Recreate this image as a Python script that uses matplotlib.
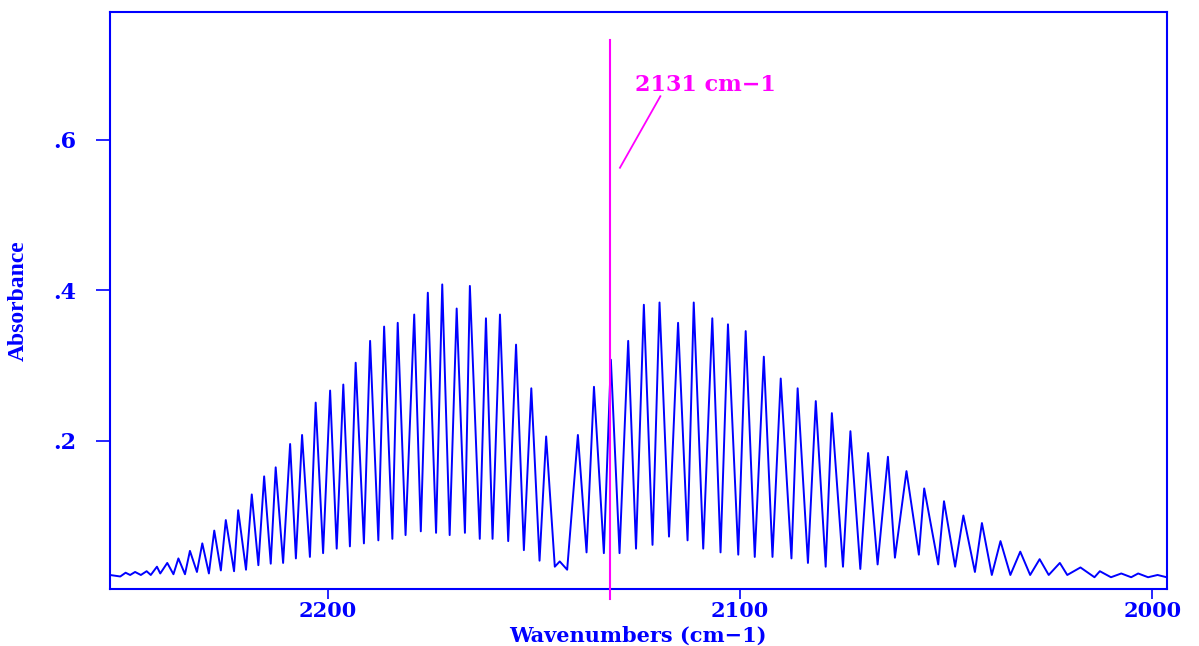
import matplotlib
matplotlib.use("Agg")
import matplotlib.pyplot as plt

BLUE = "#0000ff"
MAGENTA = "#ff00ff"

# line maxima of the traced spectrum (wavenumber, absorbance)
peak_wn = [2249.0, 2246.7, 2243.9, 2241.4, 2238.9, 2236.2, 2233.4, 2230.4,
           2227.5, 2224.7, 2221.7, 2218.4, 2215.4, 2212.6, 2209.1, 2206.2,
           2202.9, 2199.4, 2196.2, 2193.2, 2189.7, 2186.3, 2183.0, 2179.0,
           2175.7, 2172.2, 2168.7, 2165.5, 2161.6, 2158.2, 2154.3, 2150.6,
           2147.0, 2143.7, 2139.3, 2135.4, 2131.3, 2127.1, 2123.3, 2119.5,
           2115.0, 2111.2, 2106.7, 2102.9, 2098.6, 2094.2, 2090.1, 2086.0,
           2081.6, 2077.7, 2073.2, 2068.9, 2064.1, 2059.6, 2055.3, 2050.5,
           2045.8, 2041.3, 2036.8, 2032.0, 2027.3, 2022.4, 2017.4, 2012.7,
           2007.5, 2003.4, 1998.7]
peak_abs = [0.025, 0.026, 0.027, 0.033, 0.038, 0.044, 0.054, 0.064,
            0.081, 0.095, 0.108, 0.129, 0.153, 0.165, 0.196, 0.208,
            0.251, 0.267, 0.275, 0.304, 0.333, 0.352, 0.357, 0.368,
            0.397, 0.408, 0.376, 0.406, 0.363, 0.368, 0.328, 0.270,
            0.206, 0.040, 0.208, 0.272, 0.308, 0.333, 0.381, 0.384,
            0.357, 0.384, 0.363, 0.355, 0.346, 0.312, 0.283, 0.270,
            0.253, 0.237, 0.213, 0.184, 0.179, 0.160, 0.137, 0.120,
            0.101, 0.091, 0.067, 0.053, 0.043, 0.038, 0.032, 0.027,
            0.024, 0.024, 0.022]

# minima between the lines
valley_wn = [2252.8, 2250.3, 2247.9, 2245.3, 2242.9, 2240.6, 2237.4, 2234.6,
             2231.7, 2228.8, 2225.9, 2222.7, 2219.8, 2216.8, 2213.8, 2210.8,
             2207.7, 2204.3, 2201.1, 2197.8, 2194.6, 2191.2, 2187.7, 2184.3,
             2181.1, 2177.4, 2173.7, 2170.4, 2166.7, 2163.1, 2160.0, 2156.2,
             2152.4, 2148.6, 2144.9, 2141.9, 2137.2, 2133.0, 2129.2, 2125.2,
             2121.2, 2117.2, 2112.7, 2108.9, 2104.7, 2100.4, 2096.4, 2092.1,
             2087.5, 2083.5, 2079.2, 2075.0, 2070.8, 2066.6, 2062.4, 2056.6,
             2051.9, 2047.8, 2043.0, 2038.9, 2034.4, 2029.6, 2025.1, 2020.6,
             2014.0, 2010.0, 2005.1, 2001.0, 1996.5]
valley_abs = [0.022, 0.020, 0.022, 0.022, 0.022, 0.024, 0.023, 0.023,
              0.026, 0.024, 0.028, 0.027, 0.029, 0.035, 0.037, 0.038,
              0.044, 0.046, 0.051, 0.057, 0.060, 0.064, 0.068, 0.070,
              0.075, 0.080, 0.078, 0.075, 0.078, 0.070, 0.070, 0.067,
              0.055, 0.041, 0.033, 0.029, 0.052, 0.051, 0.051, 0.057,
              0.062, 0.073, 0.068, 0.057, 0.052, 0.049, 0.046, 0.046,
              0.044, 0.038, 0.033, 0.033, 0.030, 0.036, 0.045, 0.049,
              0.036, 0.033, 0.026, 0.022, 0.022, 0.022, 0.022, 0.022,
              0.019, 0.019, 0.019, 0.019, 0.019]

marker_wn = 2131.6
marker_label = "2131 cm\u22121"
xticks = [2200, 2100, 2000]
xtick_labels = ["2200", "2100", "2000"]
yticks = [0.2, 0.4, 0.6]
ytick_labels = [".2", ".4", ".6"]

pts = sorted(zip(peak_wn + valley_wn, peak_abs + valley_abs), reverse=True)
wn = [p[0] for p in pts]
absorb = [p[1] for p in pts]

fig = plt.figure(figsize=(11.99, 6.46), dpi=100)
ax = fig.add_axes([0.0917, 0.0878, 0.8813, 0.8937])

ax.plot(wn, absorb, color=BLUE, lw=1.4)

# marker line for the 2131 line, runs past the bottom axis like a tick
ax.plot([marker_wn, marker_wn], [-0.010, 0.733], color=MAGENTA, lw=1.5,
        clip_on=False, zorder=3)
ax.plot([2119.3, 2129.1], [0.658, 0.563], color=MAGENTA, lw=1.3)
ax.text(2125.5, 0.673, marker_label, color=MAGENTA, fontsize=16,
        family="DejaVu Serif", weight="bold", va="center", ha="left")

ax.set_xlim(2252.8, 1996.5)
ax.set_ylim(0.003, 0.770)

ax.set_xticks(xticks)
ax.set_xticklabels(xtick_labels)
ax.set_yticks(yticks)
ax.set_yticklabels(ytick_labels)
ax.tick_params(colors=BLUE, direction="out", width=1.2)
ax.tick_params(axis="x", length=7, pad=1.5, labelsize=15)
ax.tick_params(axis="y", length=10, pad=14, labelsize=16)
for lab in ax.get_xticklabels() + ax.get_yticklabels():
    lab.set_family("DejaVu Serif")
    lab.set_weight("bold")

for sp in ax.spines.values():
    sp.set_color(BLUE)
    sp.set_linewidth(1.5)

ax.set_xlabel("Wavenumbers (cm\u22121)", color=BLUE, fontsize=15,
              family="DejaVu Serif", weight="bold")
ax.xaxis.set_label_coords(0.5, -0.063)
ax.set_ylabel("Absorbance", color=BLUE, fontsize=17,
              family="Liberation Serif", weight="bold")
ax.yaxis.set_label_coords(-0.077, 0.5)

fig.savefig("out.png", dpi=100)
